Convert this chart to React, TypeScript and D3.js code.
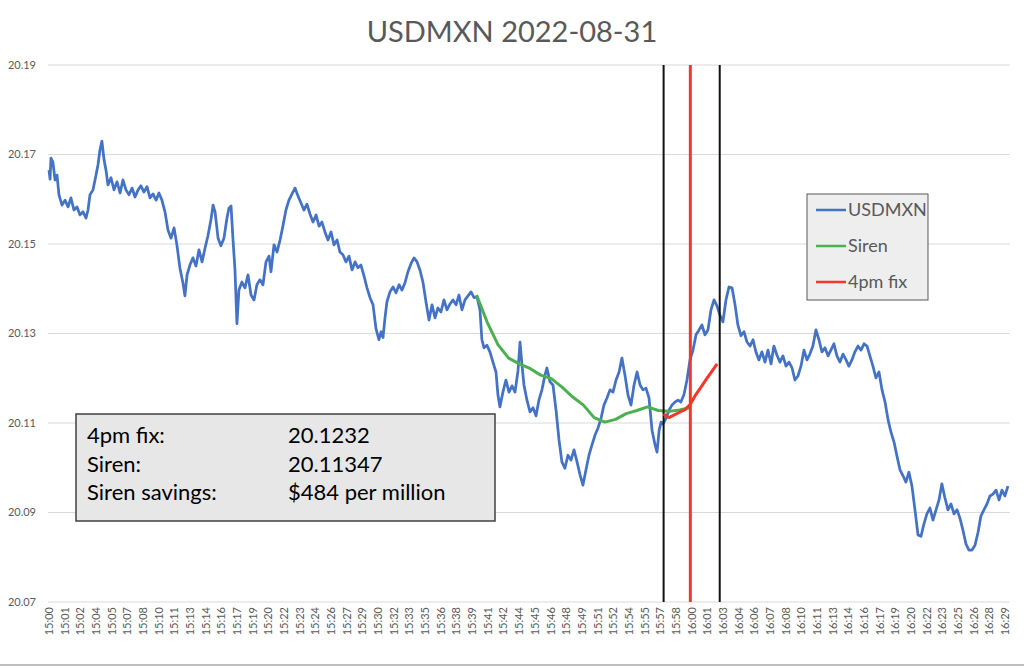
import React from "react";
import * as d3 from "d3";

const title = "USDMXN 2022-08-31";

// price axis, ticks every 0.02
const priceTicks = [20.07, 20.09, 20.11, 20.13, 20.15, 20.17, 20.19];

// category labels along the bottom, one every 88 seconds of data
const timeLabels = [
  "15:00", "15:01", "15:02", "15:04", "15:05", "15:07", "15:08", "15:10", "15:11", "15:13",
  "15:14", "15:16", "15:17", "15:19", "15:20", "15:22", "15:23", "15:24", "15:26", "15:27",
  "15:29", "15:30", "15:32", "15:33", "15:35", "15:36", "15:38", "15:39", "15:41", "15:42",
  "15:44", "15:45", "15:46", "15:48", "15:49", "15:51", "15:52", "15:54", "15:55", "15:57",
  "15:58", "16:00", "16:01", "16:03", "16:04", "16:06", "16:07", "16:08", "16:10", "16:11",
  "16:13", "16:14", "16:16", "16:17", "16:19", "16:20", "16:22", "16:23", "16:25", "16:26",
  "16:28", "16:29",
];
const labelStep = 88;
const sessionSeconds = 5400;

const fixRate = 20.1232;
const sirenRate = 20.11347;
const fixTime = 3600; // 16:00:00
const fixWindow = [3450, 3765]; // start / end of the fix window

// [seconds after 15:00, rate]
const usdmxn: [number, number][] = [
  [0, 20.1665], [6, 20.1645], [11, 20.1692], [22, 20.1683], [34, 20.1643], [45, 20.1654], [56, 20.161], [73, 20.1587], [90, 20.1598],
  [107, 20.1583], [123, 20.1603], [140, 20.1576], [157, 20.1583], [174, 20.1565], [191, 20.1572], [208, 20.1558], [219, 20.1576],
  [230, 20.161], [247, 20.1621], [264, 20.1654], [275, 20.1677], [286, 20.171], [297, 20.173], [309, 20.1688], [320, 20.1665],
  [331, 20.1632], [348, 20.1648], [365, 20.1621], [382, 20.1639], [399, 20.1614], [415, 20.1643], [432, 20.1621], [449, 20.161],
  [466, 20.1625], [483, 20.1605], [500, 20.1621], [516, 20.163], [533, 20.1616], [550, 20.1628], [567, 20.1603], [584, 20.1612],
  [601, 20.1598], [617, 20.1614], [634, 20.1598], [651, 20.1572], [668, 20.1531], [685, 20.1513], [702, 20.1536], [718, 20.1498],
  [735, 20.1446], [752, 20.1413], [763, 20.1384], [775, 20.1431], [791, 20.1453], [808, 20.1469], [825, 20.1451], [842, 20.1487],
  [859, 20.146], [876, 20.1491], [892, 20.1518], [909, 20.1554], [921, 20.1587], [932, 20.1572], [949, 20.1513], [965, 20.1496],
  [982, 20.1513], [999, 20.1558], [1010, 20.158], [1022, 20.1585], [1033, 20.1509], [1044, 20.1442], [1055, 20.1322], [1066, 20.1397],
  [1083, 20.1415], [1100, 20.1402], [1117, 20.1431], [1134, 20.1386], [1151, 20.1375], [1167, 20.1409], [1184, 20.142], [1201, 20.1409],
  [1218, 20.146], [1235, 20.1473], [1246, 20.1438], [1263, 20.1498], [1280, 20.1482], [1297, 20.1509], [1313, 20.154], [1330, 20.1576],
  [1347, 20.1598], [1364, 20.1612], [1381, 20.1625], [1398, 20.1607], [1414, 20.1592], [1431, 20.1576], [1448, 20.1589], [1465, 20.1567],
  [1482, 20.1549], [1499, 20.1565], [1516, 20.154], [1532, 20.1549], [1549, 20.1527], [1566, 20.1509], [1583, 20.1527], [1600, 20.1498],
  [1617, 20.1509], [1633, 20.1482], [1650, 20.1476], [1667, 20.146], [1684, 20.1473], [1701, 20.1442], [1718, 20.146], [1734, 20.1447],
  [1751, 20.1453], [1768, 20.1429], [1785, 20.1402], [1802, 20.138], [1819, 20.1364], [1835, 20.1312], [1852, 20.1286], [1864, 20.1304],
  [1875, 20.1291], [1886, 20.1335], [1897, 20.1371], [1914, 20.1393], [1931, 20.1404], [1948, 20.1391], [1965, 20.1409], [1981, 20.1397],
  [1998, 20.1413], [2015, 20.1438], [2032, 20.1456], [2049, 20.1469], [2066, 20.146], [2082, 20.1442], [2099, 20.1415], [2116, 20.1371],
  [2133, 20.133], [2150, 20.1364], [2167, 20.1335], [2183, 20.1357], [2200, 20.1348], [2217, 20.1375], [2234, 20.1353], [2251, 20.1366],
  [2268, 20.1375], [2285, 20.1364], [2301, 20.1386], [2318, 20.1353], [2335, 20.1375], [2352, 20.1384], [2369, 20.1393], [2386, 20.138],
  [2402, 20.1382], [2419, 20.1353], [2430, 20.1286], [2442, 20.1268], [2458, 20.1274], [2475, 20.1259], [2492, 20.1236], [2509, 20.1214],
  [2520, 20.1163], [2531, 20.1136], [2548, 20.1169], [2565, 20.1196], [2582, 20.1169], [2599, 20.1183], [2616, 20.1169], [2633, 20.1218],
  [2644, 20.1281], [2655, 20.123], [2666, 20.1185], [2683, 20.1151], [2700, 20.1125], [2717, 20.1134], [2734, 20.1116], [2750, 20.1151],
  [2767, 20.1174], [2784, 20.1207], [2795, 20.1223], [2812, 20.1192], [2829, 20.1185], [2846, 20.1129], [2863, 20.1062], [2879, 20.1013],
  [2896, 20.0999], [2913, 20.1028], [2930, 20.1017], [2947, 20.104], [2964, 20.1013], [2981, 20.0984], [2997, 20.0961], [3014, 20.0995],
  [3031, 20.1028], [3048, 20.1051], [3065, 20.1073], [3082, 20.1089], [3099, 20.1111], [3115, 20.114], [3132, 20.1156], [3149, 20.1174],
  [3166, 20.1169], [3183, 20.1196], [3200, 20.1214], [3216, 20.1245], [3233, 20.1207], [3250, 20.1163], [3267, 20.114], [3284, 20.1185],
  [3301, 20.1214], [3318, 20.1185], [3334, 20.1174], [3351, 20.1178], [3368, 20.1156], [3385, 20.1084], [3402, 20.1051], [3413, 20.1035],
  [3425, 20.1084], [3436, 20.1102], [3447, 20.1098], [3464, 20.1111], [3481, 20.1129], [3497, 20.114], [3514, 20.1147], [3531, 20.1151],
  [3547, 20.1147], [3564, 20.1163], [3581, 20.1196], [3598, 20.1241], [3615, 20.1263], [3632, 20.1297], [3649, 20.1308], [3665, 20.1319],
  [3682, 20.1297], [3699, 20.1308], [3716, 20.1353], [3733, 20.1375], [3750, 20.1361], [3766, 20.1341], [3783, 20.1326], [3800, 20.1375],
  [3817, 20.1404], [3834, 20.1402], [3851, 20.1364], [3867, 20.1319], [3884, 20.1295], [3901, 20.1304], [3918, 20.1281], [3935, 20.1272],
  [3952, 20.1286], [3968, 20.1259], [3985, 20.1241], [4002, 20.1259], [4019, 20.1236], [4036, 20.1263], [4053, 20.1232], [4069, 20.1272],
  [4086, 20.1252], [4103, 20.1236], [4120, 20.125], [4137, 20.1227], [4154, 20.1236], [4171, 20.1223], [4187, 20.1196], [4204, 20.1205],
  [4221, 20.1227], [4238, 20.1263], [4255, 20.1241], [4271, 20.1254], [4288, 20.1272], [4305, 20.1308], [4322, 20.1286], [4339, 20.1259],
  [4356, 20.1268], [4373, 20.125], [4389, 20.1263], [4406, 20.1277], [4423, 20.125], [4440, 20.1236], [4457, 20.1254], [4474, 20.1241],
  [4490, 20.1227], [4507, 20.1241], [4524, 20.1259], [4541, 20.1272], [4558, 20.1263], [4575, 20.1277], [4592, 20.1272], [4608, 20.125],
  [4625, 20.1227], [4642, 20.1201], [4659, 20.1214], [4676, 20.1174], [4693, 20.1147], [4710, 20.1107], [4726, 20.108], [4743, 20.1058],
  [4760, 20.1026], [4777, 20.0995], [4794, 20.0982], [4810, 20.0968], [4827, 20.099], [4844, 20.0959], [4861, 20.0906], [4878, 20.085],
  [4895, 20.0847], [4911, 20.0874], [4928, 20.0897], [4945, 20.091], [4962, 20.0883], [4979, 20.0906], [4996, 20.0928], [5012, 20.0964],
  [5029, 20.0933], [5046, 20.0906], [5063, 20.0919], [5080, 20.0897], [5097, 20.0906], [5113, 20.0888], [5130, 20.0861], [5147, 20.083],
  [5164, 20.0816], [5181, 20.0816], [5198, 20.0827], [5215, 20.0856], [5231, 20.0892], [5248, 20.0906], [5265, 20.0919], [5282, 20.0937],
  [5299, 20.0941], [5316, 20.095], [5333, 20.0928], [5349, 20.095], [5366, 20.0937], [5383, 20.0959],
];

// running Siren average from 15:40 to 16:00
const siren: [number, number][] = [
  [2400, 20.1386], [2460, 20.1325], [2520, 20.1275], [2580, 20.1245], [2640, 20.1232], [2700, 20.1222], [2760, 20.1207],
  [2820, 20.1199], [2880, 20.118], [2940, 20.1158], [3000, 20.114], [3060, 20.1112], [3120, 20.1102], [3180, 20.1108],
  [3240, 20.1121], [3300, 20.1128], [3360, 20.1136], [3420, 20.1128], [3480, 20.1126], [3540, 20.1129], [3600, sirenRate],
];

// running 4pm fix average over the fix window
const fix4pm: [number, number][] = [
  [3450, 20.112], [3480, 20.1112], [3510, 20.1118], [3540, 20.1124], [3570, 20.113], [3600, 20.1142],
  [3630, 20.1163], [3660, 20.118], [3690, 20.1198], [3720, 20.1215], [3750, fixRate],
];

const savingsPerMillion = Math.round(((fixRate - sirenRate) / fixRate) * 1e6);

const summaryRows = [
  ["4pm fix:", String(fixRate)],
  ["Siren:", String(sirenRate)],
  ["Siren savings:", "$" + savingsPerMillion + " per million"],
];

const legendItems = [
  { name: "USDMXN", color: "#4472C4" },
  { name: "Siren", color: "#4CAF50" },
  { name: "4pm fix", color: "#F5362B" },
];

const font = "Lato, 'Open Sans', sans-serif";

export default function App() {
  const width = 1024;
  const height = 668;
  const plot = { left: 48, right: 1010, top: 65, bottom: 602 };

  const x = d3.scaleLinear().domain([0, sessionSeconds]).range([49, 1011]);
  const y = d3.scaleLinear().domain([20.07, 20.19]).range([plot.bottom, plot.top]);
  const line = d3.line<[number, number]>().x(d => x(d[0])).y(d => y(d[1]));

  return (
    <svg width={width} height={height} style={{ position: "absolute", left: 0, top: 0, background: "#fff" }} fontFamily={font}>
      <text x={512} y={42} textAnchor="middle" fontSize={29} fill="#595959">{title}</text>

      {priceTicks.map(t => (
        <g key={t}>
          <line x1={plot.left} x2={plot.right} y1={y(t)} y2={y(t)} stroke="#d9d9d9" strokeWidth={1} />
          <text x={36} y={y(t)} dy="0.35em" textAnchor="end" fontSize={11} fill="#595959">{t.toFixed(2)}</text>
        </g>
      ))}

      {timeLabels.map((lab, i) => (
        <text key={i} transform={`translate(${x(i * labelStep)},607) rotate(-90)`} dy="0.35em"
          textAnchor="end" fontSize={11} fill="#595959">{lab}</text>
      ))}

      <path d={line(usdmxn) || ""} fill="none" stroke="#4472C4" strokeWidth={2.75} strokeLinejoin="round" />
      <path d={line(siren) || ""} fill="none" stroke="#4CAF50" strokeWidth={3} strokeLinejoin="round" />

      {fixWindow.map(t => (
        <line key={t} x1={x(t)} x2={x(t)} y1={plot.top} y2={plot.bottom} stroke="#111" strokeWidth={2} />
      ))}
      <line x1={x(fixTime)} x2={x(fixTime)} y1={plot.top} y2={plot.bottom} stroke="#F5362B" strokeWidth={3} />
      <path d={line(fix4pm) || ""} fill="none" stroke="#F5362B" strokeWidth={3} strokeLinejoin="round" />

      <g>
        <rect x={807} y={194} width={121} height={106} fill="#eeeeee" stroke="#595959" strokeWidth={1} />
        {legendItems.map((it, i) => (
          <g key={it.name} transform={`translate(816,${210 + i * 36})`}>
            <line x1={0} x2={30} y1={0} y2={0} stroke={it.color} strokeWidth={2.5} />
            <text x={32} y={0} dy="0.36em" fontSize={18} fill="#595959">{it.name}</text>
          </g>
        ))}
      </g>

      <g>
        <rect x={76} y={414} width={419} height={107} fill="#e7e7e7" stroke="#404040" strokeWidth={1.5} />
        {summaryRows.map((r, i) => (
          <g key={r[0]}>
            <text x={87} y={443 + i * 28.5} fontSize={22} fill="#000">{r[0]}</text>
            <text x={288} y={443 + i * 28.5} fontSize={22} fill="#000">{r[1]}</text>
          </g>
        ))}
      </g>

      <line x1={0} x2={width} y1={665} y2={665} stroke="#bfbfbf" strokeWidth={2} />
    </svg>
  );
}
